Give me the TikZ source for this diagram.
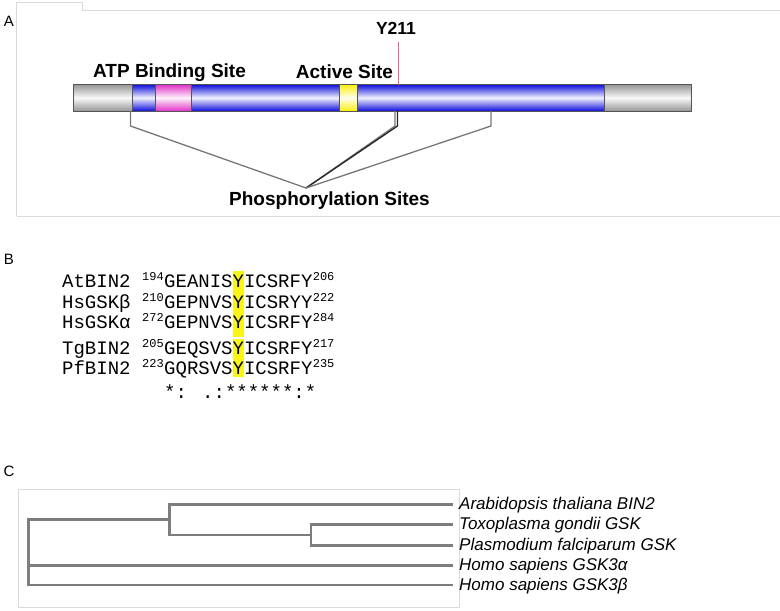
\documentclass[tikz,border=0pt]{standalone}
\usepackage{fontspec}
\setmainfont{Liberation Sans}
\newfontfamily\seqfont{Liberation Mono}
\usetikzlibrary{positioning}
\definecolor{framec}{RGB}{218,218,218}
\definecolor{barblue}{RGB}{15,15,220}
\definecolor{barpink}{RGB}{225,50,200}
\definecolor{bargray}{RGB}{150,150,150}
\definecolor{baryel}{RGB}{250,240,10}
\definecolor{edgec}{RGB}{85,85,85}
\definecolor{linkc}{RGB}{118,118,118}
\definecolor{tyrc}{RGB}{242,95,135}
\definecolor{treec}{RGB}{125,125,125}
\definecolor{hlc}{RGB}{250,245,25}

\begin{document}
\begin{tikzpicture}[x=1pt, y=-1pt, inner sep=0pt,
  panel/.style={font=\fontsize{15}{15}\selectfont},
  boldlab/.style={font=\bfseries\fontsize{19}{19}\selectfont},
  seqtxt/.style={font=\seqfont\fontsize{19}{19}\selectfont},
  numtxt/.style={font=\seqfont\fontsize{12}{12}\selectfont},
  leaf/.style={font=\itshape\fontsize{17}{17}\selectfont, anchor=base west},
  branch/.style={treec, line width=2.2pt}]
  \useasboundingbox (0,0) rectangle (780,611);

  % ---------------- A: domain bar ----------------
  \node[panel, anchor=base] (labA) at (9,26) {A};
  \draw[framec, line width=1pt] (16.5,216) -- (16.5,2.7) -- (82,2.7) -- (82,10.3) -- (780,10.3);
  \draw[framec, line width=1pt] (16.5,216) -- (780,216);

  % segments: gray ends, blue kinase domain, pink ATP site, yellow active site
  \foreach \xa/\xb/\c in {73/132/bargray, 132/155/barblue, 155/191/barpink, 191/339/barblue,
                          339/357/baryel, 357/604/barblue, 604/691/bargray}{
    \shade[top color=\c, bottom color=\c, middle color=\c!6!white] (\xa,84.5) rectangle (\xb,111);
    \draw[edgec, line width=0.7pt] (\xa,84.5) rectangle (\xb,111);
  }

  \node[boldlab, anchor=base] (atp) at (169.5,77) {ATP Binding Site};
  \node[boldlab, anchor=base] (act) at (344.5,78) {Active Site};
  \node[boldlab, font=\bfseries\fontsize{17.5}{17.5}\selectfont, anchor=base] (tyr) at (396,34) {Y211};
  \coordinate (tyrtop) at (398,42);
  \coordinate (tyrbar) at (398,85);
  \draw[tyrc, line width=1pt] (tyrtop) -- (tyrbar);

  % phosphorylation leaders
  \node[boldlab, anchor=base] (phos) at (329.5,205) {Phosphorylation Sites};
  \coordinate (apex) at (306,188);
  \coordinate (s1) at (130.5,111);
  \coordinate (s2) at (395,111);
  \coordinate (s3) at (397.5,111);
  \coordinate (s4) at (491,111);
  \draw[linkc, line width=1.3pt] (s1) -- ++(0,15) -- (apex);
  \draw[linkc, line width=1.3pt] (s2) -- ++(0,15) -- (apex);
  \draw[black!85, line width=1.3pt] (s3) -- ++(0,15) -- (apex);
  \draw[linkc, line width=1.3pt] (s4) -- ++(0,15) -- (apex);

  % ---------------- B: alignment ----------------
  \node[panel, anchor=base] (labB) at (9,264) {B};
  % conserved tyrosine
  \fill[hlc] (232.5,271) rectangle (244,336.5);
  \fill[hlc] (232.5,338.5) rectangle (244,377);
  \foreach \nm/\st/\sq/\en/\yb [count=\i] in {AtBIN2/194/GEANISYICSRFY/206/287, HsGSKβ/210/GEPNVSYICSRYY/222/308,
      HsGSKα/272/GEPNVSYICSRFY/284/328, TgBIN2/205/GEQSVSYICSRFY/217/354, PfBIN2/223/GQRSVSYICSRFY/235/374}{
    \node[seqtxt, anchor=base west] (name\i) at (62,\yb) {\nm};
    \node[seqtxt, anchor=base west] (seq\i) at (164,\yb) {\sq};
    \node[numtxt, anchor=base east] (st\i) at ([yshift=7pt]seq\i.base west) {\st};
    \node[numtxt, anchor=base west] (en\i) at ([yshift=7pt]seq\i.base east) {\en};
  }
  \node[seqtxt, anchor=base west] (cons) at (164,398) {*: .:******:*};

  % ---------------- C: tree ----------------
  \node[panel, anchor=base] (labC) at (9,476) {C};
  \draw[framec, line width=1pt] (18.5,489.5) rectangle (459.5,607);

  \coordinate (r)  at (28.5,519.5);
  \coordinate (n1) at (169.5,519.5);
  \coordinate (n2) at (311,535);
  \coordinate (la) at (453,504.5);
  \coordinate (lt) at (453,524.5);
  \coordinate (lp) at (453,545.5);
  \coordinate (lh1) at (453,565.5);
  \coordinate (lh2) at (453,585);
  \draw[branch] (la) -| (n1) |- (n2) |- (lt);
  \draw[branch] (n2) |- (lp);
  \draw[branch] (n1) -- (r) |- (lh2);
  \draw[branch] (r) |- (lh1);

  \node[leaf] (ta) at ([xshift=6pt,yshift=-5pt]la) {Arabidopsis thaliana BIN2};
  \node[leaf] (tt) at ([xshift=6pt,yshift=-5pt]lt) {Toxoplasma gondii GSK};
  \node[leaf] (tp) at ([xshift=6pt,yshift=-5pt]lp) {Plasmodium falciparum GSK};
  \node[leaf] (th1) at ([xshift=6pt,yshift=-5pt]lh1) {Homo sapiens GSK3α};
  \node[leaf] (th2) at ([xshift=6pt,yshift=-5pt]lh2) {Homo sapiens GSK3β};
\end{tikzpicture}
\end{document}
